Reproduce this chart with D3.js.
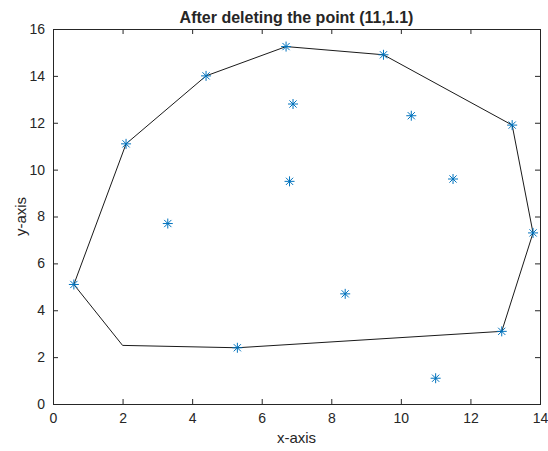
<!DOCTYPE html>
<html>
<head>
<meta charset="utf-8">
<script src="https://cdn.jsdelivr.net/npm/d3@7"></script>
<style>
  body { margin: 0; background: #fff; }
  text { font-family: "Liberation Sans", Arial, sans-serif; fill: #262626; }
</style>
</head>
<body>
<script>
var margin = {top: 29, right: 8, bottom: 47, left: 53},
    width = 548 - margin.left - margin.right,
    height = 451 - margin.top - margin.bottom;

// scattered points
var xs = [0.6, 2.1, 4.4, 6.7, 9.5, 13.2, 13.8, 12.9, 5.3, 3.3, 6.9, 6.8, 10.3, 11.5, 8.4, 11.0];
var ys = [5.1, 11.1, 14.0, 15.25, 14.9, 11.9, 7.3, 3.1, 2.4, 7.7, 12.8, 9.5, 12.3, 9.6, 4.7, 1.1];

// hull outline
var hullX = [0.6, 2.1, 4.4, 6.7, 9.5, 13.2, 13.8, 12.9, 5.3, 2.0, 0.6];
var hullY = [5.1, 11.1, 14.0, 15.25, 14.9, 11.9, 7.3, 3.1, 2.4, 2.5, 5.1];

var xTicks = [0, 2, 4, 6, 8, 10, 12, 14];
var yTicks = [0, 2, 4, 6, 8, 10, 12, 14, 16];

var xScale = d3.scaleLinear().domain([0, 14]).range([0, width]);
var yScale = d3.scaleLinear().domain([0, 16]).range([height, 0]);

var svg = d3.select("body").append("svg")
    .attr("width", 548)
    .attr("height", 451)
  .append("g")
    .attr("transform", "translate(" + margin.left + "," + margin.top + ")");

// axes, ticks pointing inwards like matlab
function styleAxis(g) {
  g.select(".domain").remove();
  g.selectAll(".tick line").attr("stroke", "#262626").attr("stroke-width", 1);
  g.selectAll(".tick text").style("font-size", "14px").attr("fill", "#262626");
}

svg.append("g")
    .attr("transform", "translate(0," + height + ")")
    .call(d3.axisBottom(xScale).tickValues(xTicks).tickSizeInner(-5).tickSizeOuter(0).tickPadding(9))
    .call(styleAxis);

svg.append("g")
    .call(d3.axisTop(xScale).tickValues(xTicks).tickSizeInner(-5).tickSizeOuter(0).tickFormat(""))
    .call(styleAxis);

svg.append("g")
    .call(d3.axisLeft(yScale).tickValues(yTicks).tickSizeInner(-5).tickSizeOuter(0).tickPadding(8))
    .call(styleAxis);

svg.append("g")
    .attr("transform", "translate(" + width + ",0)")
    .call(d3.axisRight(yScale).tickValues(yTicks).tickSizeInner(-5).tickSizeOuter(0).tickFormat(""))
    .call(styleAxis);

svg.append("rect")
    .attr("x", 0.5).attr("y", 0.5)
    .attr("width", width).attr("height", height)
    .attr("fill", "none")
    .attr("stroke", "#262626");

// hull line
var line = d3.line()
    .x(function(d) { return xScale(d[0]); })
    .y(function(d) { return yScale(d[1]); });

svg.append("path")
    .datum(hullX.map(function(x, i) { return [x, hullY[i]]; }))
    .attr("d", line)
    .attr("fill", "none")
    .attr("stroke", "#1a1a1a")
    .attr("stroke-width", 1);

// asterisk markers
var r = 5, rd = 3.6;
var star = "M" + (-r) + ",0L" + r + ",0M0," + (-r) + "L0," + r +
           "M" + (-rd) + "," + (-rd) + "L" + rd + "," + rd +
           "M" + (-rd) + "," + rd + "L" + rd + "," + (-rd);

svg.selectAll(".pt")
    .data(xs)
    .enter()
    .append("path")
    .attr("class", "pt")
    .attr("transform", function(d, i) {
      return "translate(" + xScale(d) + "," + yScale(ys[i]) + ")";
    })
    .attr("d", star)
    .attr("fill", "none")
    .attr("stroke", "#0072BD")
    .attr("stroke-width", 1);

// title and labels
svg.append("text")
    .attr("x", width / 2).attr("y", -6)
    .attr("text-anchor", "middle")
    .style("font-size", "16px")
    .style("font-weight", "bold")
    .attr("fill", "#000")
    .text("After deleting the point (11,1.1)");

svg.append("text")
    .attr("x", width / 2).attr("y", height + 39)
    .attr("text-anchor", "middle")
    .style("font-size", "15px")
    .text("x-axis");

svg.append("text")
    .attr("transform", "translate(-27," + (height / 2) + ") rotate(-90)")
    .attr("text-anchor", "middle")
    .style("font-size", "15px")
    .text("y-axis");
</script>
</body>
</html>
